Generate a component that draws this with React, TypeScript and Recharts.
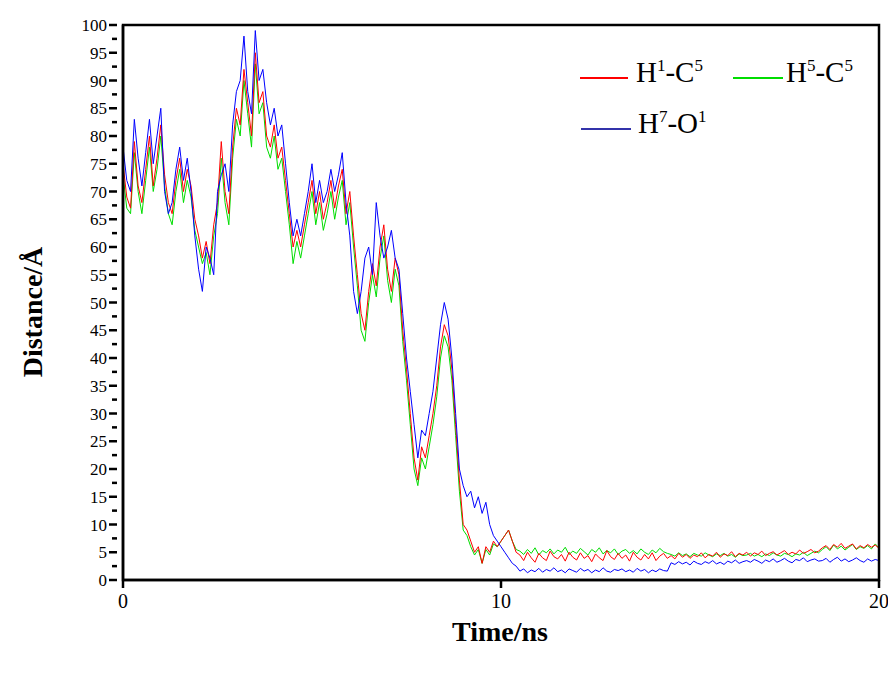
import React from "react";
import { LineChart, Line, XAxis, YAxis } from "recharts";

const red = [75,69,67,79,71,68,74,80,71,76,82,
73,68,66,72,76,70,74,71,65,62,
58,61,57,64,68,79,70,66,78,85,
82,92,86,80,95,86,88,80,78,82,
76,78,72,66,60,63,60,64,68,72,
66,70,65,68,72,67,71,74,66,70,
62,55,48,45,52,57,53,60,64,56,
52,58,55,45,38,30,22,18,24,22,
26,30,35,42,46,44,38,28,18,10,
9,7,5,6,3,6,5,7,6,7,8,9,7,5,
4.5,3.5,5,4,3.2,4.8,4,3.5,5.2,4.2,3.8,4.6,3.4,5,4.1,3.6,4.9,3.9,4.4,3.3,4.7,4,3.5,5.3,4.2,3.7,4.8,3.9,4.5,3.4,5,4.1,3.6,4.6,3.8,4.9,3.5,4.3,4.8,3.9,
4.4,3.8,4.8,4.1,4.6,3.9,4.5,4.2,4.9,4,4.6,4.3,5,4.1,4.7,4.4,5.1,4.2,4.8,4.5,5,4.3,4.9,4.6,5.2,4.4,4.8,5.1,4.5,4.9,5.3,4.6,5,4.7,5.4,4.8,5.1,5.5,4.9,5.2,
5.8,6.2,5.5,6.4,5.9,6.6,5.7,6.1,6.5,5.6,6.2,5.8,6.4,5.9,6.3,5.7];

const green = [73,67,66,77,70,66,72,78,70,74,80,
71,66,64,70,74,68,72,69,63,60,
57,59,55,62,66,76,68,64,76,83,
80,90,84,78,93,84,86,78,76,80,
74,76,70,64,57,61,58,62,66,70,
64,68,63,66,70,65,69,72,64,68,
60,53,45,43,50,55,51,58,62,54,
50,56,53,43,36,28,20,17,22,20,
24,28,33,40,44,42,36,26,16,9,
8,6,4.5,5.5,3,5.5,4.5,6.5,6,7,8,9,7,5.5,
5.2,4.6,5.5,4.8,5.8,4.5,5.3,4.9,5.6,4.7,5.4,5,5.9,4.6,5.2,4.8,5.7,5.1,4.5,5.5,5,5.8,4.7,5.3,4.9,5.6,4.6,5.2,5.5,4.8,5.3,4.7,5.6,5,4.6,5.4,4.9,5.7,5.1,4.8,
4.6,4.3,4.9,4.4,4.7,4.2,4.8,4.5,4.3,4.9,4.5,4.2,4.7,4.4,4.8,4.3,4.6,4.1,4.7,4.4,4.5,4.8,4.3,4.6,4.2,4.7,4.4,4.9,4.5,4.3,4.8,4.6,4.2,4.7,4.5,5,4.4,4.8,5.2,4.9,
5.5,6,5.3,6.3,5.6,6.1,5.4,5.9,6.4,5.5,6,5.7,6.2,5.6,6.5,5.8];

const blue = [78,72,70,83,76,71,77,83,75,80,85,
70,66,68,74,78,72,76,70,62,56,
52,60,58,55,70,73,75,70,82,88,
90,98,88,84,99,90,92,86,82,85,
80,82,75,68,62,65,62,66,70,75,
68,72,68,70,74,70,73,77,68,62,
52,48,52,58,60,55,68,62,58,60,
63,58,56,48,40,34,28,22,27,26,
30,34,40,46,50,47,40,30,20,17,
15,16,13,15,12,14,10,8,7,6,5,4,3,2.5,
1.6,2,1.3,1.8,1.5,2.1,1.4,1.9,1.6,2.2,1.5,1.8,1.3,2,1.7,1.4,2.1,1.6,1.9,1.3,1.8,1.5,2.2,1.6,1.4,1.9,1.7,2,1.5,1.8,1.4,2.1,1.6,1.9,1.3,1.8,1.5,2,1.7,1.6,
3.1,2.8,3.3,2.9,3.2,2.7,3.4,3,2.8,3.3,3,3.5,2.9,3.2,2.8,3.4,3.1,3.6,3,3.3,3.5,3.2,3.7,3.4,3,3.6,3.3,3.8,3.2,3.5,3.9,3.4,3.1,3.7,3.5,4,3.3,3.6,3.8,3.4,
3.5,3.9,3.2,3.7,4.1,3.4,3.8,3.3,3.6,4,3.5,3.2,3.8,3.4,3.7,3.5];

const xTicks = [0, 10, 20];
const yTicks = [0,2.5,5,7.5,10,12.5,15,17.5,20,22.5,25,27.5,30,32.5,35,37.5,40,42.5,45,47.5,50,52.5,55,57.5,60,62.5,65,67.5,70,72.5,75,77.5,80,82.5,85,87.5,90,92.5,95,97.5,100];

const data = red.map((r, i) => ({ t: i / 10, red: r, green: green[i], blue: blue[i] }));

const font = "'Liberation Serif', 'Times New Roman', serif";

const YTick = (props: any) => {
  const { x, y, payload } = props;
  const major = payload.value % 5 === 0;
  return (
    <g>
      <line x1={x + 2} x2={x + 2 - (major ? 8 : 5)} y1={y} y2={y} stroke="#000" strokeWidth={2.5} />
      {major && (
        <text x={x - 8} y={y} dy={6} textAnchor="end" fontSize={17} fontFamily={font} fill="#000">
          {payload.value}
        </text>
      )}
    </g>
  );
};

const XTick = (props: any) => {
  const { x, y, payload } = props;
  return (
    <g>
      <line x1={x} x2={x} y1={y - 8} y2={y} stroke="#000" strokeWidth={2.5} />
      <text x={x} y={y + 20} textAnchor="middle" fontSize={20} fontFamily={font} fill="#000">
        {payload.value}
      </text>
    </g>
  );
};

const legendText = { position: "absolute" as const, fontFamily: font, fontSize: 29, color: "#000", lineHeight: "29px" };
const sup = { fontSize: 17, verticalAlign: "super" as const, lineHeight: 0 };
const frame = { stroke: "#000", strokeWidth: 2.5 };

export default function App() {
  return (
    <div style={{ position: "relative", width: 896, height: 673, margin: -8, background: "#fff" }}>
      <LineChart width={896} height={673} data={data} margin={{ top: 25, right: 17, left: 63, bottom: 63 }}>
        <XAxis dataKey="t" type="number" domain={[0, 20]} ticks={xTicks} tick={<XTick />} tickLine={false} axisLine={frame} height={30} />
        <YAxis type="number" domain={[0, 100]} ticks={yTicks} interval={0} tick={<YTick />} tickLine={false} axisLine={frame} width={60} />
        <Line dataKey="green" stroke="#00dd00" strokeWidth={1} dot={false} isAnimationActive={false} />
        <Line dataKey="red" stroke="#ff0000" strokeWidth={1} dot={false} isAnimationActive={false} />
        <Line dataKey="blue" stroke="#0000ff" strokeWidth={1} dot={false} isAnimationActive={false} />
      </LineChart>
      <svg width={896} height={673} style={{ position: "absolute", left: 0, top: 0, zIndex: 10, pointerEvents: "none" }}>
        <rect x={123} y={25} width={756} height={555} fill="none" stroke="#000" strokeWidth={2.5} />
      </svg>
      <div style={{ position: "absolute", left: 0, width: 896, top: 616, textAlign: "center", paddingLeft: 104, boxSizing: "border-box", fontFamily: font, fontWeight: "bold", fontSize: 28 }}>Time/ns</div>
      <div style={{ position: "absolute", left: 33, top: 312, transform: "translate(-50%,-50%) rotate(-90deg)", whiteSpace: "nowrap", fontFamily: font, fontWeight: "bold", fontSize: 28 }}>Distance/Å</div>
      <div style={{ position: "absolute", left: 580, top: 77, width: 48, height: 1.5, background: "#ff0000" }} />
      <div style={{ ...legendText, left: 636, top: 58 }}>H<span style={sup}>1</span>-C<span style={sup}>5</span></div>
      <div style={{ position: "absolute", left: 733, top: 77, width: 50, height: 1.5, background: "#00dd00" }} />
      <div style={{ ...legendText, left: 786, top: 58 }}>H<span style={sup}>5</span>-C<span style={sup}>5</span></div>
      <div style={{ position: "absolute", left: 581, top: 128, width: 50, height: 1.5, background: "#3333aa" }} />
      <div style={{ ...legendText, left: 638, top: 109 }}>H<span style={sup}>7</span>-O<span style={sup}>1</span></div>
    </div>
  );
}
